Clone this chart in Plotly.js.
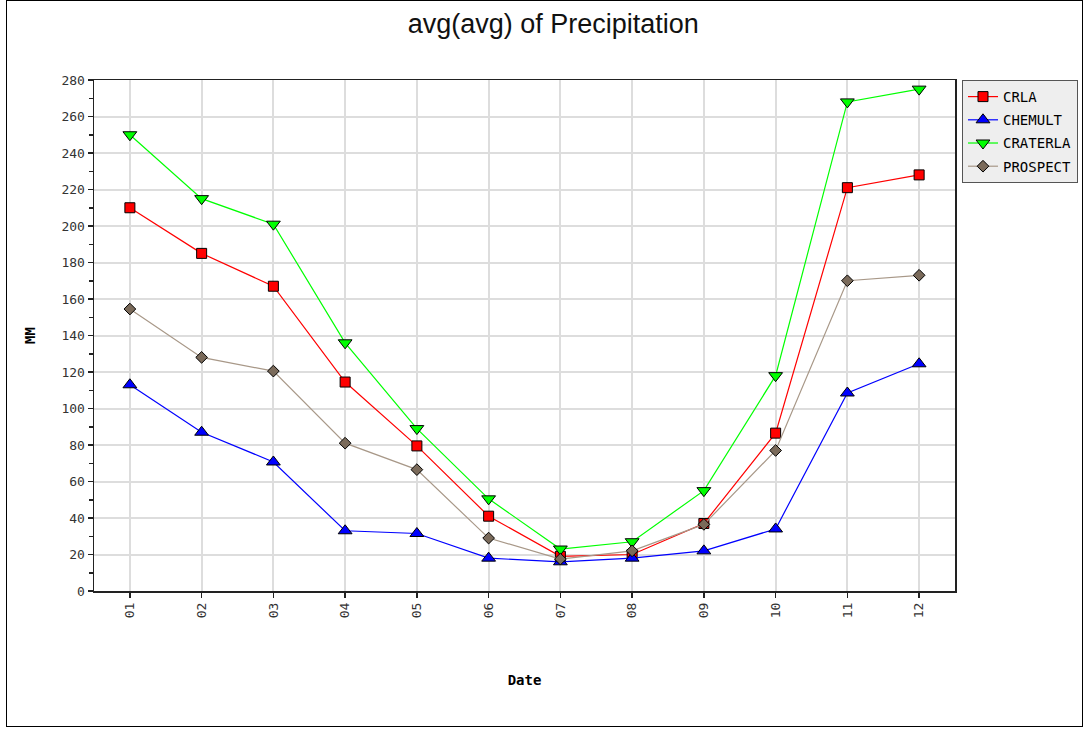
<!DOCTYPE html>
<html><head><meta charset="utf-8">
<script src="https://cdn.plot.ly/plotly-3.0.1.min.js"></script>
<style>
html,body{margin:0;padding:0;background:#fff;}
#frame{position:absolute;left:6px;top:0px;width:1077px;height:727px;border:1px solid #000;box-sizing:border-box;pointer-events:none;z-index:5;}
#chart{position:absolute;left:0;top:0;width:1087px;height:730px;}
</style></head>
<body>
<div id="chart"></div>
<div id="frame"></div>
<script>
const months = ['01','02','03','04','05','06','07','08','09','10','11','12'];
const crla     = [210, 185, 167, 114.5, 79.5, 41, 19, 20, 37, 86.5, 221, 228];
const chemult  = [113, 87, 70.7, 33, 31.5, 18, 16, 18, 22, 34, 108.5, 124.5];
const craterla = [250, 215, 201, 136, 89, 50.5, 23, 27, 55, 118, 268, 275];
const prospect = [154.5, 128, 120.5, 81, 66.5, 29, 17.5, 22, 36.5, 77, 170, 173];
const seriesNames = ['CRLA','CHEMULT','CRATERLA','PROSPECT'];

function tr(name, y, lineColor, fill, symbol, size){
  return {x: months, y: y, name: name, legendgroup: name, type:'scatter', mode:'lines+markers',
    line:{color:lineColor, width:1.2},
    marker:{symbol:symbol, size:size, color:fill, line:{color:'#000', width:1}}};
}
const data = [
  tr(seriesNames[0], crla, '#ff0000', '#ff0000', 'square', 10),
  tr(seriesNames[1], chemult, '#0000ff', '#0000ff', 'triangle-up', 12),
  tr(seriesNames[2], craterla, '#00ff00', '#00ff00', 'triangle-down', 12),
  tr(seriesNames[3], prospect, '#a89888', '#7a6a5a', 'diamond', 9)
];
const mono = 'DejaVu Sans Mono, monospace';
const layout = {
  width:1087, height:730,
  margin:{l:94, r:132, t:80, b:139},
  paper_bgcolor:'#fff', plot_bgcolor:'#fff',
  title:{text:'avg(avg) of Precipitation', x:0.509, xref:'container', xanchor:'center', y:0.968, yref:'container', yanchor:'middle',
    font:{family:'Liberation Sans Narrow, Liberation Sans, Arial, sans-serif', size:27, color:'#111'}},
  xaxis:{type:'category', range:[-0.5,11.5], tickangle:-90,
    showgrid:true, gridcolor:'#dddddd', gridwidth:2,
    showline:true, linecolor:'#222', linewidth:1.5, mirror:true,
    ticks:'outside', ticklen:5, tickcolor:'#222', tickwidth:1.5,
    tickfont:{family:mono, size:13, color:'#333'},
    title:{text:'<b>Date</b>', standoff:58, font:{family:mono, size:14, color:'#000'}},
    zeroline:false, fixedrange:true},
  yaxis:{range:[0,280], dtick:20, tick0:0,
    showgrid:true, gridcolor:'#dddddd', gridwidth:2,
    showline:true, linecolor:'#222', linewidth:1.5, mirror:true,
    ticks:'outside', ticklen:5, tickcolor:'#222', tickwidth:1.5,
    minor:{dtick:10, ticks:'outside', ticklen:4, tickcolor:'#222', showgrid:false},
    tickfont:{family:mono, size:13, color:'#333'},
    title:{text:'<b>MM</b>', standoff:22, font:{family:mono, size:14, color:'#000'}},
    zeroline:false, fixedrange:true},
  legend:{xref:'container', yref:'container', x:0.885, xanchor:'left', y:0.8904, yanchor:'top',
    bgcolor:'#eeeeee', bordercolor:'#555', borderwidth:1,
    font:{family:mono, size:14, color:'#000'}, tracegroupgap:2, itemwidth:30},
  showlegend:true
};
Plotly.newPlot('chart', data, layout, {displayModeBar:false, staticPlot:true});
</script>
</body></html>
